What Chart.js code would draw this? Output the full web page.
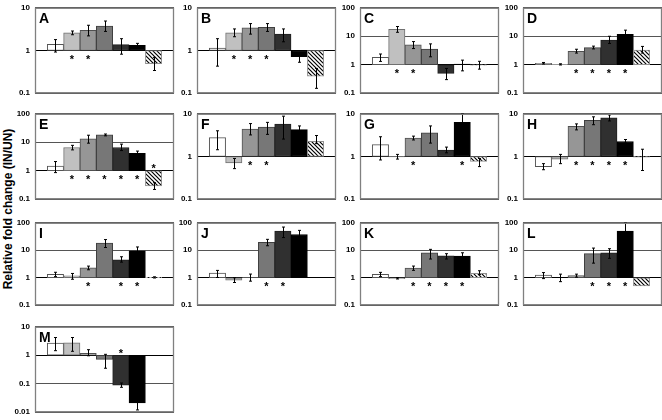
<!DOCTYPE html>
<html><head><meta charset="utf-8">
<script src="https://cdn.jsdelivr.net/npm/chart.js@4.4.0/dist/chart.umd.min.js"></script>
<style>
body{margin:0;background:#fff;width:662px;height:420px;overflow:hidden;position:relative;font-family:"Liberation Sans",Arial,sans-serif}
canvas{position:absolute}
#ytitle{position:absolute;left:8px;top:209px;transform:translate(-50%,-50%) rotate(-90deg);white-space:nowrap;font:bold 12px "Liberation Sans",Arial,sans-serif;color:#000}
</style></head><body>
<div id="ytitle">Relative fold change (IN/UN)</div>
<script>
const panelLetters = ['A','B','C','D','E','F','G','H','I','J','K','L','M'];
const yMin = [0.1,0.1,0.1,0.1, 0.1,0.1,0.1,0.1, 0.1,0.1,0.1,0.1, 0.01];
const yMax = [10,10,100,100, 100,10,10,10, 100,100,100,100, 10];
const values = [
  [1.40, 2.59, 2.96, 3.73, 1.37, 1.33, 0.49],
  [1.14, 2.59, 3.38, 3.49, 2.42, 0.72, 0.25],
  [1.81, 17.7, 5.0, 3.53, 0.50, 1.05, 0.97],
  [1.13, 1.03, 2.97, 4.0, 7.4, 11.6, 3.28],
  [1.45, 6.56, 13.2, 18.1, 6.56, 4.1, 0.29],
  [2.77, 0.71, 4.4, 4.88, 5.74, 4.27, 2.27],
  [1.9, 0.98, 2.69, 3.6, 1.41, 6.34, 0.77],
  [0.58, 0.87, 5.1, 7.0, 8.1, 2.24, 0.97],
  [1.33, 1.17, 2.27, 18.1, 4.5, 9.5, 1.03],
  [1.47, 0.81, 1.02, 19.6, 50, 37.5, null],
  [1.32, 0.93, 2.24, 8.1, 6.26, 6.2, 1.46],
  [1.25, 1.0, 1.19, 7.5, 8.1, 49.5, 0.5],
  [2.7, 2.76, 1.16, 0.72, 0.089, 0.021, null]
];
const errUpper = [
  [1.8, 2.86, 3.9, 4.9, 1.89, 1.47, 0.69],
  [1.89, 3.2, 4.27, 4.27, 3.2, 0.8, 0.38],
  [2.38, 22, 6.5, 5.4, 0.74, 1.45, 1.32],
  [1.2, 1.08, 3.5, 4.5, 10, 16.4, 4.4],
  [2.1, 7.8, 17.7, 19.5, 8.6, 4.9, 0.38],
  [4.0, 0.9, 5.9, 6.3, 8.8, 5.2, 3.1],
  [2.9, 1.12, 3.0, 5.2, 1.66, 10, 0.9],
  [0.68, 1.12, 5.8, 8.5, 9.4, 2.5, 1.48],
  [1.58, 1.43, 2.65, 24.5, 5.8, 13.2, 1.08],
  [1.85, 1.0, 1.36, 25, 70, 53, null],
  [1.57, 1.0, 2.66, 10.8, 7.5, 8.1, 1.8],
  [1.54, 1.35, 1.35, 12, 11.4, 100, null],
  [4.2, 4.2, 1.57, 1.08, 0.106, 0.028, null]
];
const errLower = [
  [0.92, 2.34, 2.2, 2.8, 0.82, 1.18, 0.34],
  [0.43, 2.1, 2.42, 2.8, 1.6, 0.53, 0.13],
  [1.31, 13.8, 3.7, 1.9, 0.3, 0.61, 0.7],
  [1.06, 0.98, 2.57, 3.6, 5.6, 8.8, 2.57],
  [0.86, 5.4, 9.3, 16.8, 5.1, 3.4, 0.22],
  [1.44, 0.52, 3.2, 3.3, 2.56, 3.7, 2.0],
  [0.83, 0.87, 2.44, 2.06, 1.22, 4.4, 0.58],
  [0.49, 0.68, 4.2, 5.55, 6.8, 2.06, 0.47],
  [1.1, 0.88, 1.95, 12.6, 3.7, 7.9, 0.98],
  [1.02, 0.67, 0.75, 14.6, 29, 29, null],
  [1.1, 0.9, 1.86, 4.8, 4.8, 5.1, 1.3],
  [0.93, 0.72, 1.05, 3.4, 5.1, 35, null],
  [1.45, 1.38, 0.96, 0.35, 0.075, 0.012, null]
];
const starBars = [
  [1,2],[1,2,3],[1,2],[2,3,4,5],
  [1,2,3,4,5,6],[2,3],[2,5],[2,3,4,5],
  [2,4,5],[3,4],[2,3,4,5],[3,4,5],
  [4]
];

// layout (pixels)
const colLeft = [35, 197, 360, 523];
const rowTop = [4, 110, 219, 323];
const rowHeight = [93, 93, 90, 93];
const plotWidth = 139;
const axisSpace = 35;

function hatchPattern(){
  const c = document.createElement('canvas'); c.width = 4; c.height = 4;
  const g = c.getContext('2d');
  g.fillStyle = '#fff'; g.fillRect(0,0,4,4);
  g.strokeStyle = '#000'; g.lineWidth = 1.2;
  g.beginPath();
  g.moveTo(-1,-1); g.lineTo(5,5);
  g.moveTo(3,-1); g.lineTo(5,1);
  g.moveTo(-1,3); g.lineTo(1,5);
  g.stroke();
  return g.createPattern(c,'repeat');
}
const hatch = hatchPattern();
const barFills = ['#ffffff','#c0c0c0','#969696','#777777','#303030','#000000', hatch];
const barBorders = ['#555555','#707070','#505050','#404040','#202020','#000000','#909090'];

const decoPlugin = {
  id: 'panelDeco',
  afterDatasetsDraw(chart){
    const p = chart.options.plugins.panelDeco;
    const {ctx, scales:{y}} = chart;
    const meta = chart.getDatasetMeta(0);
    ctx.save();
    ctx.strokeStyle = '#000'; ctx.lineWidth = 1;
    meta.data.forEach((el,i)=>{
      if (p.vals[i] == null) return;
      const hi = p.hi[i], lo = p.lo[i];
      if (hi == null || lo == null) return;
      const x = Math.round(el.x) + 0.5;
      const y1 = y.getPixelForValue(hi), y2 = y.getPixelForValue(lo);
      ctx.beginPath();
      ctx.moveTo(x, y1); ctx.lineTo(x, y2);
      ctx.moveTo(x-1.5, y1); ctx.lineTo(x+1.5, y1);
      ctx.moveTo(x-1.5, y2); ctx.lineTo(x+1.5, y2);
      ctx.stroke();
    });
    const y1px = y.getPixelForValue(1);
    ctx.fillStyle = '#000';
    ctx.font = 'bold 11px "Liberation Sans", Arial, sans-serif';
    ctx.textAlign = 'center'; ctx.textBaseline = 'alphabetic';
    p.stars.forEach(i=>{
      const el = meta.data[i];
      const up = p.vals[i] >= 1;
      const cy = up ? y1px + 6 : y1px - 5;
      ctx.fillText('*', el.x, cy + 6.3);
    });
    ctx.restore();
  },
  afterDraw(chart){
    const p = chart.options.plugins.panelDeco;
    const {ctx, chartArea:a} = chart;
    ctx.save();
    ctx.strokeStyle = '#808080'; ctx.lineWidth = 1.3;
    ctx.strokeRect(a.left + 0.5, a.top + 0.5, a.right - a.left - 1, a.bottom - a.top - 1);
    ctx.fillStyle = '#000';
    ctx.font = 'bold 14px "Liberation Sans", Arial, sans-serif';
    ctx.textAlign = 'left'; ctx.textBaseline = 'top';
    ctx.fillText(p.letter, a.left + 4, a.top + 4);
    ctx.restore();
  }
};

panelLetters.forEach((letter, p)=>{
  const col = p % 4, row = Math.floor(p / 4);
  const cv = document.createElement('canvas');
  const w = axisSpace + plotWidth + 2, h = rowHeight[row] + 12;
  cv.width = w; cv.height = h;
  cv.style.left = (colLeft[col] - axisSpace) + 'px';
  cv.style.top = (rowTop[row] - 6) + 'px';
  cv.style.width = w + 'px'; cv.style.height = h + 'px';
  document.body.appendChild(cv);
  const vals = values[p];
  const mn = yMin[p], mx = yMax[p];
  new Chart(cv, {
    type: 'bar',
    data: {
      datasets: [{
        data: vals.map((v,i)=>({x:i, y: v == null ? null : [1, v]})),
        backgroundColor: vals.map((v,i)=>barFills[i]),
        borderColor: vals.map((v,i)=>barBorders[i]),
        borderWidth: 1,
        borderSkipped: false,
        categoryPercentage: 1,
        barPercentage: 1
      }]
    },
    options: {
      responsive: false, animation: false, devicePixelRatio: 1,
      layout: {padding: {left:0, right:2, top:6, bottom:6}},
      plugins: {
        legend: {display:false}, tooltip: {enabled:false},
        panelDeco: {letter, vals, hi: errUpper[p], lo: errLower[p], stars: starBars[p]}
      },
      scales: {
        x: {type:'linear', min:-1.25, max:7.25, display:false, offset:false, grid:{display:false}},
        y: {
          type: 'logarithmic', min: mn, max: mx,
          afterFit: s => { s.width = axisSpace; },
          afterBuildTicks: s => {
            const t = [];
            for (let v = mn; v <= mx * 1.0001; v *= 10) t.push({value: +v.toPrecision(3)});
            s.ticks = t;
          },
          border: {display:false},
          grid: {drawTicks:false, lineWidth:1, color: c => (c.tick && c.tick.value === 1) ? '#000000' : '#555555'},
          ticks: {padding: 5, color:'#000', font:{family:'"Liberation Sans", Arial, sans-serif', size:8, weight:'bold'},
                  callback: v => String(v)}
        }
      }
    },
    plugins: [decoPlugin]
  });
});
</script>
</body></html>
